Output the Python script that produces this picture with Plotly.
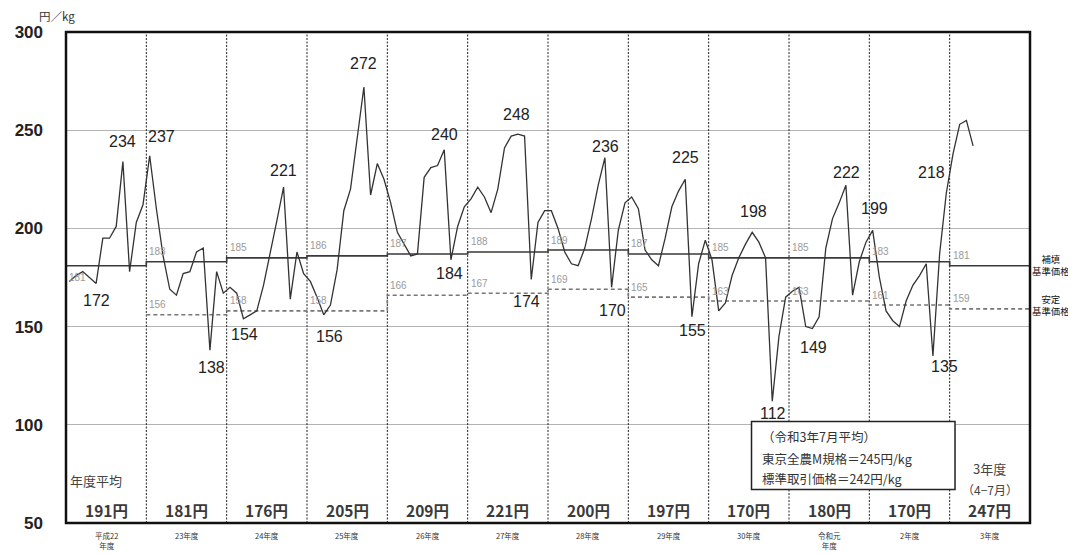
import plotly.graph_objects as go

# ---------------- data ----------------
fiscal_years = ["平成22<br>年度", "23年度", "24年度", "25年度", "26年度", "27年度",
                "28年度", "29年度", "30年度", "令和元<br>年度", "2年度", "3年度"]

price_h22 = [173, 176, 178, 175, 172, 195, 195, 201, 234, 178, 203, 212]
price_h23 = [237, 210, 186, 169, 166, 177, 178, 188, 190, 138, 178, 167]
price_h24 = [170, 167, 154, 156, 158, 171, 187, 204, 221, 164, 188, 177]
price_h25 = [173, 165, 156, 161, 179, 209, 220, 247, 272, 217, 233, 225]
price_h26 = [213, 198, 192, 186, 187, 226, 231, 232, 240, 184, 201, 211]
price_h27 = [215, 221, 216, 208, 220, 241, 247, 248, 247, 174, 203, 209]
price_h28 = [209, 200, 188, 182, 181, 190, 205, 222, 236, 170, 199, 213]
price_h29 = [216, 210, 189, 184, 181, 195, 211, 219, 225, 155, 182, 194]
price_h30 = [184, 158, 162, 176, 185, 192, 198, 193, 185, 112, 145, 165]
price_r1 = [168, 170, 150, 149, 155, 190, 205, 213, 222, 166, 183, 193]
price_r2 = [199, 175, 158, 153, 150, 163, 171, 176, 182, 135, 187, 218]
price_r3 = [238, 253, 255, 242]

compensation_base = [181, 183, 185, 186, 187, 188, 189, 187, 185, 185, 183, 181]
stable_base = [None, 156, 158, 158, 166, 167, 169, 165, 163, 163, 161, 159]
annual_avg = [191, 181, 176, 205, 209, 221, 200, 197, 170, 180, 170, 247]

# index of labelled monthly points
peak_index = [4, 8, 12, 21, 26, 32, 38, 44, 56, 57, 67, 69, 80, 81, 92, 93,
              102, 105, 111, 116, 120, 129, 131]

box_lines = ["（令和3年7月平均）", "東京全農M規格＝245円/kg", "標準取引価格＝242円/kg"]

# ---------------- build ----------------
monthly_price = (price_h22 + price_h23 + price_h24 + price_h25 + price_h26 + price_h27 +
                 price_h28 + price_h29 + price_h30 + price_r1 + price_r2 + price_r3)
mx = [i + 0.5 for i in range(len(monthly_price))]

JP = "Noto Sans CJK JP"
NUM = "Liberation Sans"

fig = go.Figure()

# compensation base (solid step)
cb_x = [12 * k for k in range(len(compensation_base) + 1)]
cb_y = compensation_base + [compensation_base[-1]]
fig.add_trace(go.Scatter(x=cb_x, y=cb_y, mode="lines", line_shape="hv",
                         line=dict(color="#3a3a3a", width=1.6), hoverinfo="skip"))

# stable base (dashed step)
sb_x = [12 * k for k in range(1, len(stable_base) + 1)]
sb_y = stable_base[1:] + [stable_base[-1]]
fig.add_trace(go.Scatter(x=sb_x, y=sb_y, mode="lines", line_shape="hv",
                         line=dict(color="#777777", width=1.6, dash="4px,3px"), hoverinfo="skip"))

# monthly price
fig.add_trace(go.Scatter(x=mx, y=monthly_price, mode="lines",
                         line=dict(color="#333333", width=1.3)))

shapes = []
for k in range(1, 12):
    shapes.append(dict(type="line", xref="x", yref="y", x0=12 * k, x1=12 * k, y0=50, y1=300,
                       line=dict(color="#222222", width=1, dash="2px,1.5px"), layer="between"))
# info box
shapes.append(dict(type="rect", xref="x", yref="y", x0=102.4, x1=132.8, y0=67, y1=101.7,
                   fillcolor="white", line=dict(color="#222222", width=1.5), layer="above"))
# frame
shapes.append(dict(type="rect", xref="paper", yref="paper", x0=0, x1=1, y0=0, y1=1,
                   line=dict(color="#111111", width=2.5), layer="above"))

ann = []
# peak labels
offsets = {4: (0, -17), 8: (0, 20), 12: (12, 19), 21: (2, -17), 26: (1, -16), 32: (0, 17),
           38: (6, -22), 44: (0, 23), 56: (0, 15), 57: (-1, -14), 67: (-1, 20), 69: (-5, -22),
           80: (1, 11), 81: (1, -23), 92: (0, 22), 93: (1, -14), 102: (1, 21), 105: (1, -12),
           111: (1, -19), 116: (1, 13), 120: (2, 22), 129: (12, -10), 131: (-15, 21)}
for i in peak_index:
    dx, dy = offsets[i]
    ann.append(dict(x=mx[i], y=monthly_price[i], xref="x", yref="y", text=str(monthly_price[i]),
                    showarrow=False, xshift=dx, yshift=dy,
                    font=dict(family=NUM, size=16, color="#222222")))

# base price small labels
for k, v in enumerate(compensation_base):
    ann.append(dict(x=12 * k, y=v, xref="x", yref="y", text=str(v), showarrow=False,
                    xanchor="left", xshift=1, yshift=(-12 if k == 0 else 10),
                    font=dict(family=NUM, size=10, color="#9a9a9a")))
for k, v in enumerate(stable_base):
    if v is None:
        continue
    ann.append(dict(x=12 * k, y=v, xref="x", yref="y", text=str(v), showarrow=False,
                    xanchor="left", xshift=1, yshift=10,
                    font=dict(family=NUM, size=10, color="#9a9a9a")))

# annual averages and fiscal year labels
for k, v in enumerate(annual_avg):
    ann.append(dict(x=12 * k + 6, y=56.5, xref="x", yref="y", text=f"{v}円", showarrow=False,
                    font=dict(family=JP, size=15.5, color="#3a3a3a", weight="bold")))
    ann.append(dict(x=12 * k + 6, y=0, xref="x", yref="paper", text=fiscal_years[k],
                    showarrow=False, yanchor="top", yshift=-5,
                    font=dict(family=JP, size=7.5, color="#333333")))

ann.append(dict(x=0.3, y=71.5, xref="x", yref="y", text="年度平均", showarrow=False,
                xanchor="left", font=dict(family=JP, size=13, color="#444444")))
ann.append(dict(x=138, y=78, xref="x", yref="y", text="3年度", showarrow=False,
                font=dict(family=JP, size=13, color="#444444")))
ann.append(dict(x=138, y=67.3, xref="x", yref="y", text="（4−7月）", showarrow=False,
                font=dict(family=JP, size=12, color="#444444")))

for j, (t, yy) in enumerate(zip(box_lines, [94.0, 83.0, 72.9])):
    ann.append(dict(x=103.6, y=yy, xref="x", yref="y", text=t, showarrow=False, xanchor="left",
                    font=dict(family=JP, size=12.5, color="#333333")))

# right side labels
ann.append(dict(x=1.0, y=181.5, xref="paper", yref="y", text="補填<br>基準価格", showarrow=False,
                xanchor="center", xshift=21, font=dict(family=JP, size=9.4, color="#111111")))
ann.append(dict(x=1.0, y=161, xref="paper", yref="y", text="安定<br>基準価格", showarrow=False,
                xanchor="center", xshift=21, font=dict(family=JP, size=9.4, color="#111111")))

# unit
ann.append(dict(x=0, y=1, xref="paper", yref="paper", text="円／kg", showarrow=False,
                xanchor="left", yanchor="middle", xshift=-29, yshift=16,
                font=dict(family=JP, size=11.5, color="#333333")))

# page body has an 8px default margin: figure is 1068x547 so it ends at the window edge
fig.update_layout(
    width=1068, height=547,
    margin=dict(l=58, r=46, t=24, b=32, autoexpand=False),
    paper_bgcolor="white", plot_bgcolor="white",
    showlegend=False,
    shapes=shapes, annotations=ann,
    xaxis=dict(range=[0, 144], showgrid=False, zeroline=False, showticklabels=False,
               showline=False, fixedrange=True, automargin=False),
    yaxis=dict(range=[50, 300], tickvals=[50, 100, 150, 200, 250, 300], showgrid=True,
               gridcolor="#b3b3b3", gridwidth=1, zeroline=False, showline=False,
               ticks="", ticklabelstandoff=22, automargin=False,
               tickfont=dict(family=NUM, size=17, color="#222222", weight="bold")),
)

fig.write_html("out.html")
